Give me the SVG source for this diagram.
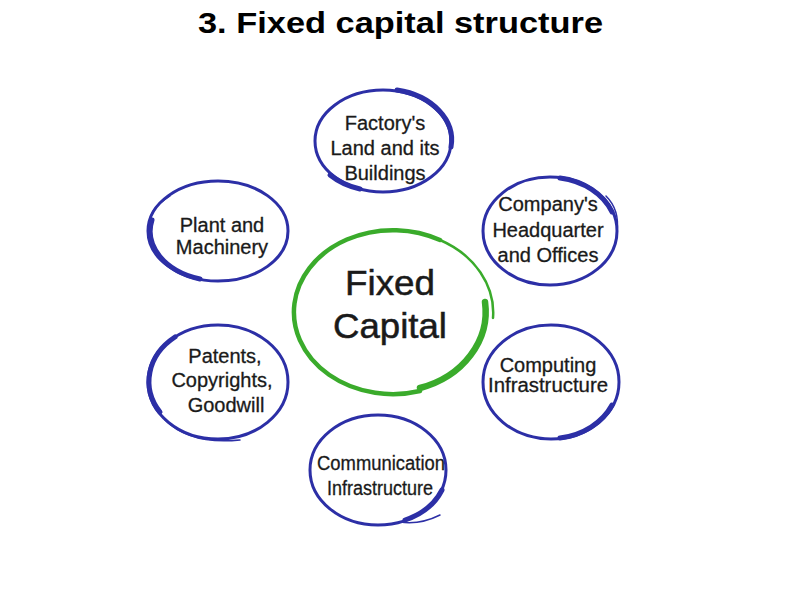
<svg xmlns="http://www.w3.org/2000/svg" width="794" height="595" viewBox="0 0 794 595">
<style>
.title{font-family:"Liberation Sans",Arial,sans-serif;font-weight:bold;font-size:30px;fill:#000;text-anchor:middle}
.lbl{font-family:"Liberation Sans",Arial,sans-serif;font-size:20px;fill:#1a1a1a;stroke:#1a1a1a;stroke-width:0.3;text-anchor:middle}
.big{font-family:"Liberation Sans",Arial,sans-serif;font-size:35px;fill:#1a1a1a;stroke:#1a1a1a;stroke-width:0.5;text-anchor:middle}
.ring{fill:none;stroke:#2c2fa6;stroke-width:3;stroke-linecap:round}
.thick{fill:none;stroke:#2c2fa6;stroke-width:5;stroke-linecap:round}
.tail{fill:none;stroke:#2c2fa6;stroke-width:1.5;stroke-linecap:round}
.gring{fill:none;stroke:#3aab2b;stroke-width:4.5;stroke-linecap:round}
.gthin{fill:none;stroke:#3aab2b;stroke-width:2.5;stroke-linecap:round}
.gthick{fill:none;stroke:#3aab2b;stroke-width:6.5;stroke-linecap:round}
</style>
<rect width="794" height="595" fill="#fff"/>
<text class="title" x="400.5" y="33" textLength="405" lengthAdjust="spacingAndGlyphs">3. Fixed capital structure</text>

<g id="connectors"></g>

<g id="center">
<path class="gring" d="M440,240 A99,82 0 1 0 420,391"/>
<path class="gthin" d="M440,240 A99,82 0 0 1 493,318"/>
<path class="gthick" d="M485,302 A93,80 0 0 1 420,388"/>
<text class="big" x="390" y="295" textLength="90" lengthAdjust="spacingAndGlyphs">Fixed</text>
<text class="big" x="390" y="338" textLength="114" lengthAdjust="spacingAndGlyphs">Capital</text>
</g>

<g id="n-factory">
<ellipse class="ring" cx="383" cy="141" rx="68" ry="51"/>
<path class="thick" d="M397,90 A68,51 0 0 1 451,147"/>
<path class="thick" d="M330,175 A68,51 0 0 0 360,189"/>
<text class="lbl" x="385" y="130" font-size="21">Factory's</text>
<text class="lbl" x="385" y="155" font-size="21">Land and its</text>
<text class="lbl" x="385" y="180" font-size="21">Buildings</text>
</g>

<g id="n-company">
<ellipse class="ring" cx="550" cy="231" rx="67" ry="54"/>
<path class="thick" d="M560,178 A67,54 0 0 1 612,212"/>
<path class="tail" d="M606,196 Q620,210 617,232"/>
<text class="lbl" x="548" y="211">Company's</text>
<text class="lbl" x="548" y="237">Headquarter</text>
<text class="lbl" x="548" y="262">and Offices</text>
</g>

<g id="n-plant">
<ellipse class="ring" cx="218" cy="231" rx="70" ry="50"/>
<path class="thick" d="M152,220 A70,50 0 0 0 200,279"/>
<path class="tail" d="M152,222 Q146,212 170,196"/>
<text class="lbl" x="222" y="232">Plant and</text>
<text class="lbl" x="222" y="254">Machinery</text>
</g>

<g id="n-patents">
<ellipse class="ring" cx="218" cy="382" rx="70" ry="57"/>
<path class="thick" d="M175,337 A70,57 0 0 0 160,412"/>
<path class="tail" d="M165,420 Q190,445 240,440"/>
<text class="lbl" x="225" y="363">Patents,</text>
<text class="lbl" x="222" y="387">Copyrights,</text>
<text class="lbl" x="226" y="412">Goodwill</text>
</g>

<g id="n-computing">
<ellipse class="ring" cx="551" cy="382" rx="68" ry="57"/>
<path class="thick" d="M612,405 A68,57 0 0 1 560,438"/>
<text class="lbl" x="548" y="372">Computing</text>
<text class="lbl" x="548" y="392" textLength="120" lengthAdjust="spacingAndGlyphs">Infrastructure</text>
</g>

<g id="n-communication">
<ellipse class="ring" cx="378" cy="470" rx="68" ry="55"/>
<path class="thick" d="M442,490 A68,55 0 0 1 405,520"/>
<path class="tail" d="M400,522 Q420,525 440,515"/>
<text class="lbl" x="381" y="470" textLength="128" lengthAdjust="spacingAndGlyphs">Communication</text>
<text class="lbl" x="380" y="495" textLength="106" lengthAdjust="spacingAndGlyphs">Infrastructure</text>
</g>
</svg>
